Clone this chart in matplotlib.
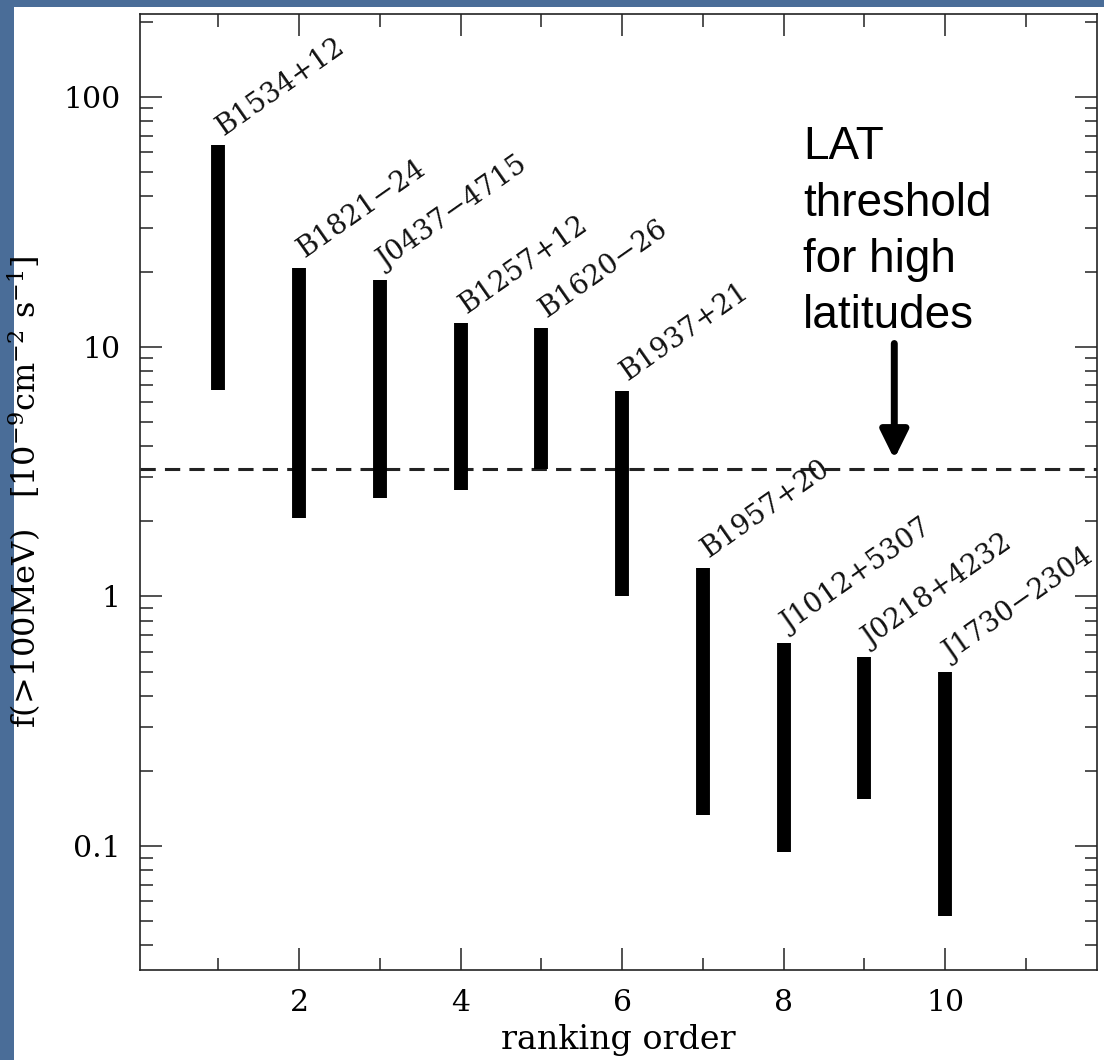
import matplotlib
matplotlib.use("Agg")
import matplotlib.pyplot as plt
from matplotlib.patches import Rectangle
from matplotlib.ticker import FixedLocator, LogLocator, NullFormatter

# ranking order of the pulsars and the flux ranges (10^-9 cm^-2 s^-1)
rank = [1, 2, 3, 4, 5, 6, 7, 8, 9, 10]
names = ["B1534+12", "B1821\u221224", "J0437\u22124715", "B1257+12", "B1620\u221226",
         "B1937+21", "B1957+20", "J1012+5307", "J0218+4232", "J1730\u22122304"]
flux_hi = [64.0, 20.7, 18.5, 12.4, 11.9, 6.65, 1.30, 0.65, 0.57, 0.50]
flux_lo = [6.7, 2.06, 2.48, 2.67, 3.24, 1.0, 0.133, 0.095, 0.155, 0.0525]

lat_threshold = 3.25
arrow_x = 9.37
arrow_from, arrow_to = 10.3, 3.55
note = "LAT\nthreshold\nfor high\nlatitudes"

plt.rcParams['mathtext.fontset'] = 'dejavuserif'

fig = plt.figure(figsize=(11.04, 10.6), dpi=100)
fig.patch.set_facecolor('#4a6d98')
# white slide panel, behind the axes
panel = Rectangle((14 / 1104, 0), 1 - 14 / 1104, 1 - 7 / 1060,
                  transform=fig.transFigure, facecolor='white',
                  edgecolor='none', zorder=-10)
fig.add_artist(panel)

ax = fig.add_axes([140 / 1104, 1 - 970 / 1060, (1097 - 140) / 1104, (970 - 14) / 1060])
ax.set_facecolor('white')
ax.set_yscale('log')
ax.set_xlim(0.03, 11.88)
ax.set_ylim(0.0319, 215)

# the flux ranges as thick bars
ax.vlines(rank, flux_lo, flux_hi, colors='black', linewidth=10, capstyle='butt', zorder=3)

for x, top, name in zip(rank, flux_hi, names):
    ax.annotate(name, xy=(x, top), xytext=(4, 7), textcoords='offset points',
                rotation=35, rotation_mode='anchor', ha='left', va='baseline',
                family='DejaVu Serif', fontsize=20, color='#111111')

ax.axhline(lat_threshold, color='#222222', linewidth=2.2, dashes=(5, 3), zorder=2)

ax.annotate('', xy=(arrow_x, arrow_to), xytext=(arrow_x, arrow_from),
            arrowprops=dict(arrowstyle='-|>,head_length=0.85,head_width=0.42',
                            mutation_scale=20, lw=5, color='black',
                            shrinkA=0, shrinkB=0))
ax.text(8.24, 77, note, ha='left', va='top', family='Liberation Sans',
        fontsize=33, linespacing=1.36, color='black')

# ticks
ax.xaxis.set_major_locator(FixedLocator([2, 4, 6, 8, 10]))
ax.xaxis.set_minor_locator(FixedLocator([1, 3, 5, 7, 9, 11]))
ax.yaxis.set_major_locator(FixedLocator([0.1, 1, 10, 100]))
ax.yaxis.set_minor_locator(LogLocator(base=10, subs=range(2, 10)))
ax.yaxis.set_minor_formatter(NullFormatter())
ax.set_yticklabels(["0.1", "1", "10", "100"])
ax.tick_params(which='both', direction='in', top=True, right=True,
               width=1.1, color='#222222')
ax.tick_params(which='major', length=16, pad=14, labelsize=21.5)
ax.tick_params(which='minor', length=9)
for lab in ax.get_xticklabels() + ax.get_yticklabels():
    lab.set_family('DejaVu Serif')
for sp in ax.spines.values():
    sp.set_linewidth(1.2)
    sp.set_color('#222222')

ax.set_xlabel("ranking order", family='DejaVu Serif', fontsize=24, labelpad=5)
ax.set_ylabel(r"f(>100MeV)   [10$^{-9}$cm$^{-2}$ s$^{-1}$]", family='DejaVu Serif',
              fontsize=23)
ax.yaxis.set_label_coords(-0.1, 0.5)

fig.savefig("out.png", dpi=100, facecolor=fig.get_facecolor())
